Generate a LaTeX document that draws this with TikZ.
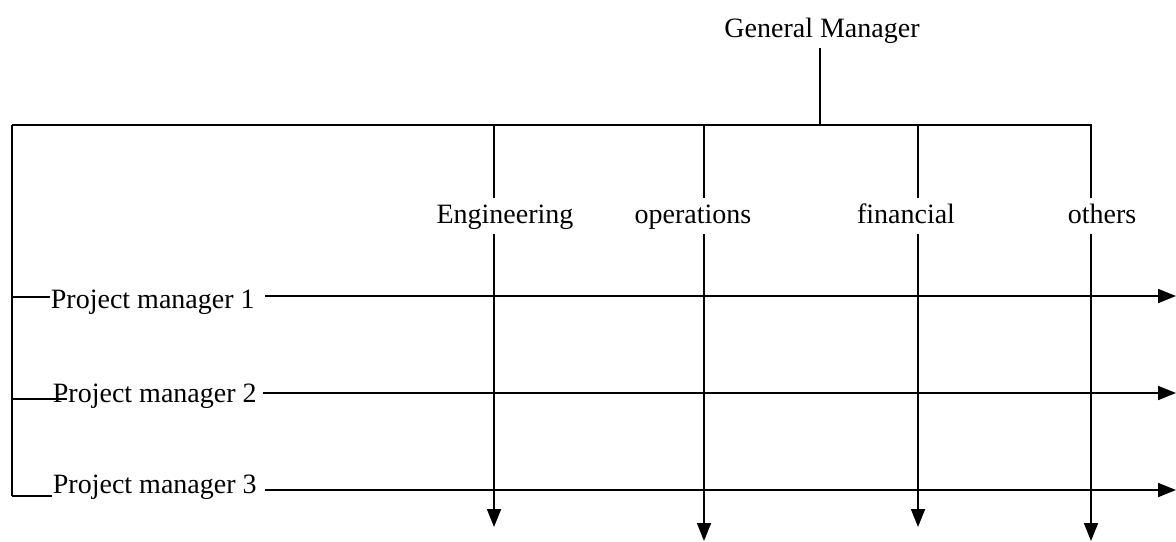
\documentclass[tikz,border=0pt]{standalone}
\usepackage{fontspec}
\setmainfont{Liberation Serif}
\usetikzlibrary{arrows.meta}
\begin{document}
\begin{tikzpicture}[x=0.5pt,y=-0.5pt, line width=0.9pt,
  lbl/.style={font=\fontsize{14}{17}\selectfont, inner sep=0pt},
  dept/.style={lbl, anchor=base, text height=10pt, text depth=3pt, inner ysep=2pt},
  pm/.style={lbl, anchor=base west},
  arr/.style={-{Triangle[width=7pt,length=9pt]}}]
\useasboundingbox (0,0) rectangle (1176,541);
% general manager
\node[lbl, anchor=base] (gm) at (822,37) {General Manager};
\coordinate (gmtop) at (820,48);
\coordinate (gmj) at (820,125);
\coordinate (busL) at (12,125);
\coordinate (busR) at (1092,125);
\coordinate (leftbot) at (12,496);
\draw (gmtop) -- (gmj);
\draw (busL) -- (busR);
\draw (busL) -- (leftbot);
% departments
\node[dept] (eng) at (505,223) {Engineering};
\node[dept] (ops) at (693,223) {operations};
\node[dept] (fin) at (906,223) {financial};
\node[dept] (oth) at (1102,223) {others};
\coordinate (c1) at (494,125);
\coordinate (c2) at (704,125);
\coordinate (c3) at (918,125);
\coordinate (c4) at (1091,125);
\coordinate (e1) at (494,527);
\coordinate (e2) at (704,541);
\coordinate (e3) at (918,527);
\coordinate (e4) at (1091,541);
\draw (c1) -- (c1 |- eng.north);
\draw[arr] (c1 |- eng.south) -- (e1);
\draw (c2) -- (c2 |- ops.north);
\draw[arr] (c2 |- ops.south) -- (e2);
\draw (c3) -- (c3 |- fin.north);
\draw[arr] (c3 |- fin.south) -- (e3);
\draw (c4) -- (c4 |- oth.north);
\draw[arr] (c4 |- oth.south) -- (e4);
% project managers
\node[pm] (pm1) at (50,308) {Project manager 1};
\node[pm] (pm2) at (52,402) {Project manager 2};
\node[pm] (pm3) at (52,493) {Project manager 3};
\coordinate (b1) at (12,297);
\coordinate (b2) at (12,399);
\coordinate (s1) at (50,297);
\coordinate (s2) at (67,399);
\coordinate (s3) at (52,496);
\draw (b1) -- (s1);
\draw (b2) -- (s2);
\draw (leftbot) -- (s3);
\coordinate (r1s) at (265,296);
\coordinate (r1e) at (1176,296);
\coordinate (r2s) at (263,393);
\coordinate (r2e) at (1176,393);
\coordinate (r3s) at (265,490);
\coordinate (r3e) at (1176,490);
\draw[arr] (r1s) -- (r1e);
\draw[arr] (r2s) -- (r2e);
\draw[arr] (r3s) -- (r3e);
\end{tikzpicture}
\end{document}
